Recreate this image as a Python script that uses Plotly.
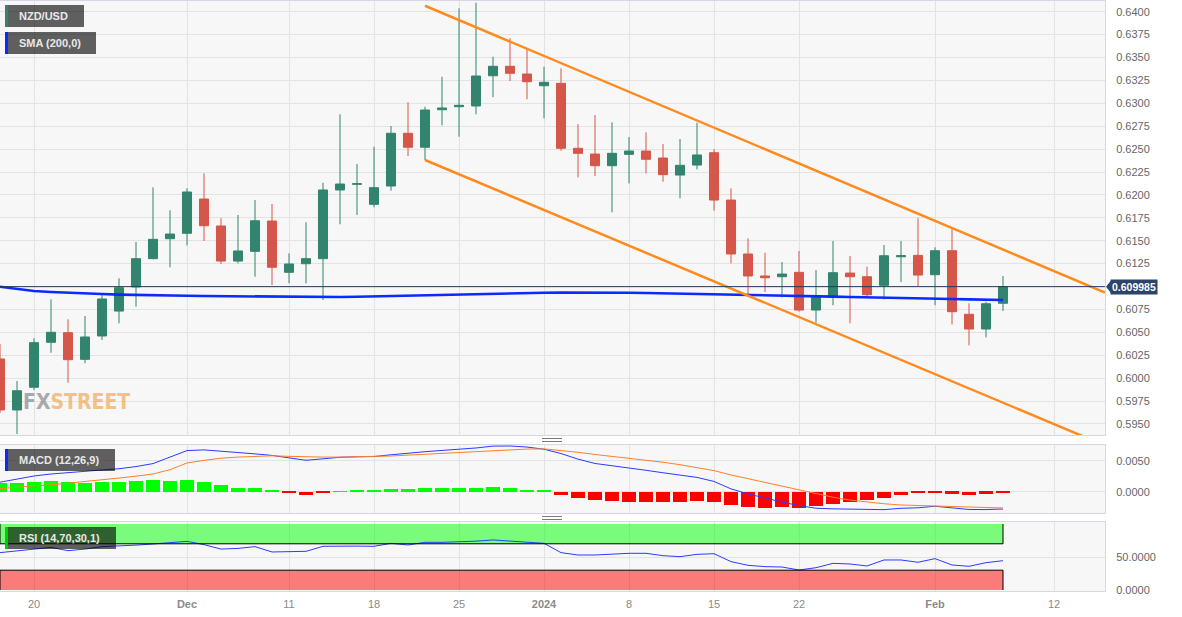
import pandas as pd
import plotly.graph_objects as go

# ---------------- data ----------------
first_day, last_day, axis_end = "2023-11-16", "2024-02-07", "2024-02-16"
calendar = [d.strftime("%Y-%m-%d") for d in pd.bdate_range(first_day, axis_end)]
dates = [d.strftime("%Y-%m-%d") for d in pd.bdate_range(first_day, last_day)]

open_ = [0.60209, 0.59652, 0.59900, 0.60391, 0.60496, 0.60205, 0.60460, 0.60732, 0.60995, 0.61304,
         0.61522, 0.61581, 0.61955, 0.61661, 0.61278, 0.61384, 0.61715, 0.61155, 0.61249, 0.61304,
         0.62054, 0.62116, 0.61897, 0.62097, 0.62673, 0.62520, 0.62930, 0.62963, 0.62971, 0.63301,
         0.63404, 0.63320, 0.63192, 0.63218, 0.62509, 0.62446, 0.62319, 0.62443, 0.62479, 0.62403,
         0.62217, 0.62326, 0.62461, 0.61944, 0.61355, 0.61115, 0.61107, 0.61155, 0.60743, 0.60882,
         0.61147, 0.61107, 0.61013, 0.61325, 0.61340, 0.61129, 0.61391, 0.60697, 0.60536, 0.60817]
high = [0.60372, 0.59968, 0.60435, 0.60860, 0.60642, 0.60678, 0.60907, 0.61090, 0.61486, 0.62083,
        0.61832, 0.62072, 0.62236, 0.61745, 0.61781, 0.61944, 0.61901, 0.61362, 0.61701, 0.62133,
        0.62880, 0.62337, 0.62526, 0.62752, 0.63011, 0.62963, 0.63290, 0.64037, 0.64098, 0.63509,
        0.63710, 0.63600, 0.63400, 0.63382, 0.62771, 0.62872, 0.62793, 0.62632, 0.62683, 0.62556,
        0.62610, 0.62788, 0.62498, 0.62072, 0.61526, 0.61369, 0.61267, 0.61388, 0.61180, 0.61497,
        0.61333, 0.61216, 0.61453, 0.61497, 0.61745, 0.61428, 0.61624, 0.60817, 0.60834, 0.61115]
low = [0.59619, 0.59390, 0.59870, 0.60277, 0.59950, 0.60162, 0.60416, 0.60598, 0.60780, 0.61297,
       0.61210, 0.61450, 0.61497, 0.61246, 0.61253, 0.61107, 0.61016, 0.61035, 0.61035, 0.60853,
       0.61679, 0.61781, 0.61865, 0.62046, 0.62425, 0.62381, 0.62760, 0.62635, 0.62880, 0.63066,
       0.63243, 0.63044, 0.62836, 0.62482, 0.62192, 0.62206, 0.61810, 0.62127, 0.62236, 0.62144,
       0.61963, 0.62279, 0.61828, 0.61253, 0.60889, 0.60940, 0.60882, 0.60725, 0.60605, 0.60795,
       0.60598, 0.60889, 0.60860, 0.61049, 0.61005, 0.60795, 0.60587, 0.60358, 0.60445, 0.60733]
close = [0.59652, 0.59862, 0.60387, 0.60500, 0.60201, 0.60449, 0.60864, 0.60987, 0.61304, 0.61515,
         0.61573, 0.62032, 0.61664, 0.61278, 0.61388, 0.61718, 0.61210, 0.61246, 0.61304, 0.62054,
         0.62119, 0.62122, 0.62079, 0.62673, 0.62520, 0.62927, 0.62949, 0.62978, 0.63298, 0.63404,
         0.63328, 0.63236, 0.63229, 0.62509, 0.62454, 0.62319, 0.62454, 0.62479, 0.62389, 0.62221,
         0.62323, 0.62436, 0.61944, 0.61355, 0.61115, 0.61096, 0.61136, 0.60743, 0.60882, 0.61151,
         0.61107, 0.60910, 0.61336, 0.61336, 0.61125, 0.61391, 0.60725, 0.60536, 0.60812, 0.609985]
sma200 = [0.60998, 0.60975, 0.60951, 0.60940, 0.60930, 0.60924, 0.60918, 0.60912, 0.60907, 0.60904,
          0.60902, 0.60899, 0.60896, 0.60894, 0.60893, 0.60891, 0.60890, 0.60887, 0.60885, 0.60883,
          0.60885, 0.60889, 0.60893, 0.60898, 0.60904, 0.60910, 0.60915, 0.60918, 0.60921, 0.60924,
          0.60927, 0.60930, 0.60932, 0.60933, 0.60934, 0.60934, 0.60934, 0.60932, 0.60929, 0.60926,
          0.60923, 0.60920, 0.60918, 0.60913, 0.60909, 0.60906, 0.60904, 0.60900, 0.60896, 0.60890,
          0.60885, 0.60880, 0.60876, 0.60872, 0.60869, 0.60866, 0.60863, 0.60860, 0.60857, 0.60853]
last_price = 0.609985

channel_dates = ["2023-12-21", "2024-02-15"]
channel_upper = [0.64065, 0.60934]
channel_lower = [0.62381, 0.59264]

macd = [0.00158, 0.00205, 0.00258, 0.00290, 0.00315, 0.00335, 0.00355, 0.00375, 0.00410, 0.00458,
        0.00560, 0.00668, 0.00679, 0.00660, 0.00632, 0.00615, 0.00590, 0.00550, 0.00511, 0.00535,
        0.00560, 0.00568, 0.00572, 0.00600, 0.00630, 0.00650, 0.00670, 0.00684, 0.00710, 0.00740,
        0.00742, 0.00725, 0.00690, 0.00620, 0.00530, 0.00460, 0.00425, 0.00395, 0.00350, 0.00310,
        0.00270, 0.00235, 0.00170, 0.00050, -0.00030, -0.00100, -0.00163, -0.00220, -0.00262, -0.00272,
        -0.00279, -0.00290, -0.00285, -0.00263, -0.00255, -0.00230, -0.00255, -0.00282, -0.00284, -0.00274]
signal = [0.00053, 0.00080, 0.00100, 0.00115, 0.00140, 0.00170, 0.00200, 0.00225, 0.00255, 0.00290,
          0.00360, 0.00468, 0.00510, 0.00545, 0.00563, 0.00575, 0.00584, 0.00575, 0.00565, 0.00563,
          0.00563, 0.00565, 0.00570, 0.00580, 0.00595, 0.00610, 0.00625, 0.00640, 0.00655, 0.00670,
          0.00685, 0.00692, 0.00695, 0.00672, 0.00640, 0.00605, 0.00575, 0.00550, 0.00520, 0.00480,
          0.00440, 0.00395, 0.00345, 0.00275, 0.00215, 0.00150, 0.00100, 0.00040, -0.00030, -0.00085,
          -0.00130, -0.00165, -0.00190, -0.00210, -0.00218, -0.00222, -0.00228, -0.00240, -0.00252, -0.00258]
hist = [0.00142, 0.00142, 0.00168, 0.00179, 0.00158, 0.00147, 0.00163, 0.00163, 0.00179, 0.00189,
        0.00184, 0.00200, 0.00168, 0.00111, 0.00068, 0.00058, 0.00026, -0.00020, -0.00042, -0.00010,
        0.00010, 0.00020, 0.00020, 0.00042, 0.00042, 0.00063, 0.00063, 0.00063, 0.00068, 0.00074,
        0.00058, 0.00037, 0.00021, -0.00053, -0.00105, -0.00137, -0.00147, -0.00158, -0.00163, -0.00163,
        -0.00163, -0.00147, -0.00163, -0.00205, -0.00237, -0.00253, -0.00242, -0.00253, -0.00232, -0.00189,
        -0.00158, -0.00137, -0.00095, -0.00047, -0.00016, -0.00010, -0.00032, -0.00042, -0.00032, -0.00016]
rsi = [56.6, 59.0, 61.6, 64.6, 59.6, 62.0, 65.7, 66.5, 68.0, 69.7,
       71.5, 73.7, 68.7, 62.0, 63.0, 65.7, 57.6, 58.0, 58.6, 66.2,
       66.7, 66.5, 66.2, 70.7, 68.2, 72.2, 72.2, 72.7, 74.0, 75.8,
       74.2, 72.2, 70.7, 56.6, 53.0, 53.0, 54.5, 55.6, 55.6, 52.0,
       50.5, 54.0, 55.0, 43.0, 37.4, 35.4, 34.8, 30.3, 33.8, 40.4,
       39.4, 36.4, 45.5, 45.5, 42.0, 47.5, 37.9, 35.9, 41.4, 44.4]
rsi_upper, rsi_lower = 70, 30

tick_dates = ["2023-11-20", "2023-12-01", "2023-12-11", "2023-12-18", "2023-12-25", "2024-01-01",
              "2024-01-08", "2024-01-15", "2024-01-22", "2024-02-01", "2024-02-12"]
tick_labels = ["20", "<b>Dec</b>", "11", "18", "25", "<b>2024</b>", "8", "15", "22", "<b>Feb</b>", "12"]

price_ticks = [0.5950 + 0.0025 * k for k in range(19)]

# ---------------- helpers ----------------
pos = {d: i for i, d in enumerate(calendar)}
xi = [pos[d] for d in dates]
tickpos = [pos[d] for d in tick_dates]
ch_x = [pos[d] for d in channel_dates]
# the tick hidden behind the last-price tag is left unlabeled
price_ticktext = ["" if abs(v - last_price) < 0.0005 else "%.4f" % v for v in price_ticks]

PLOT_W, TOP, BOT = 1105.0, 1.0, 591.0
def px_x(p):
    return p / PLOT_W
def px_y(p):
    return (BOT - p) / (BOT - TOP)

FONT = "Liberation Sans, Arial, sans-serif"
GRID = "#e3e3e3"
BORDER = "#d3d7e6"
GREEN_C = "#32846f"
RED_C = "#d4574a"

fig = go.Figure()

fig.add_trace(go.Candlestick(
    x=xi, open=open_, high=high, low=low, close=close,
    increasing=dict(line=dict(color=GREEN_C, width=1), fillcolor=GREEN_C),
    decreasing=dict(line=dict(color=RED_C, width=1), fillcolor=RED_C),
    xaxis="x", yaxis="y", showlegend=False, hoverinfo="skip"))

fig.add_trace(go.Scatter(x=xi, y=sma200, mode="lines", line=dict(color="#0a2aff", width=2.6),
                         xaxis="x", yaxis="y", showlegend=False, hoverinfo="skip"))
for ch in (channel_upper, channel_lower):
    fig.add_trace(go.Scatter(x=ch_x, y=ch, mode="lines", line=dict(color="#ff8a1e", width=2.5),
                             xaxis="x", yaxis="y", showlegend=False, hoverinfo="skip", cliponaxis=True))

fig.add_trace(go.Bar(x=xi, y=hist, width=0.78,
                     marker=dict(color=["#00ff00" if v >= 0 else "#ff0000" for v in hist], line=dict(width=0)),
                     xaxis="x2", yaxis="y2", showlegend=False, hoverinfo="skip"))
fig.add_trace(go.Scatter(x=xi, y=macd, mode="lines", line=dict(color="#2a3cff", width=1),
                         xaxis="x2", yaxis="y2", showlegend=False, hoverinfo="skip"))
fig.add_trace(go.Scatter(x=xi, y=signal, mode="lines", line=dict(color="#ff7f2a", width=1),
                         xaxis="x2", yaxis="y2", showlegend=False, hoverinfo="skip"))

fig.add_trace(go.Scatter(x=xi, y=rsi, mode="lines", line=dict(color="#2a3cff", width=1),
                         xaxis="x3", yaxis="y3", showlegend=False, hoverinfo="skip"))

xrange = [0, 65]
common_x = dict(range=xrange, tickvals=tickpos, ticktext=tick_labels, showgrid=True, gridcolor=GRID,
                zeroline=False, showline=True, linecolor=BORDER, mirror=True, ticks="",
                fixedrange=True, automargin=False)
common_y = dict(side="right", showgrid=True, gridcolor=GRID, zeroline=False, showline=True,
                linecolor=BORDER, mirror=True, ticks="", tickformat=".4f", automargin=False,
                tickfont=dict(family=FONT, size=11, color="#666666"), ticklabelstandoff=8)

fig.update_layout(
    width=1182, height=617,
    margin=dict(l=0, r=1182 - PLOT_W, t=TOP, b=617 - BOT, pad=0, autoexpand=False),
    paper_bgcolor="white", plot_bgcolor="#f7f7f7",
    showlegend=False, boxgap=0.24, bargap=0,
    xaxis=dict(common_x, anchor="y", showticklabels=False, rangeslider=dict(visible=False)),
    xaxis2=dict(common_x, anchor="y2", showticklabels=False, matches="x"),
    xaxis3=dict(common_x, anchor="y3", showticklabels=True, matches="x",
                tickfont=dict(family=FONT, size=11, color="#8a8a8a"), ticklabelstandoff=3),
    yaxis=dict(common_y, domain=[px_y(435), 1.0], range=[0.59379, 0.64117], tickvals=price_ticks,
               ticktext=price_ticktext),
    yaxis2=dict(common_y, domain=[px_y(513), px_y(445)], range=[-0.00339, 0.00758], tickvals=[0, 0.005]),
    yaxis3=dict(common_y, domain=[0.0, px_y(522)], range=[-1.5, 103], tickvals=[0, 50]),
)

shapes = []
# last price line
shapes.append(dict(type="line", xref="x", yref="y", x0=xrange[0], x1=xrange[1], y0=last_price, y1=last_price,
                   line=dict(color="#22385c", width=1)))
# RSI zones
n_last = xi[-1]
shapes.append(dict(type="rect", xref="x3", yref="y3", x0=xi[0], x1=n_last, y0=rsi_upper, y1=100,
                   fillcolor="rgba(0,255,0,0.5)", line=dict(width=0), layer="between"))
shapes.append(dict(type="rect", xref="x3", yref="y3", x0=xi[0], x1=n_last, y0=0, y1=rsi_lower,
                   fillcolor="rgba(255,0,0,0.5)", line=dict(width=0), layer="between"))
for y0, y1 in ((rsi_upper, 100), (0, rsi_lower)):
    for xv in (xi[0], n_last):
        shapes.append(dict(type="line", xref="x3", yref="y3", x0=xv, x1=xv, y0=y0, y1=y1,
                           line=dict(color="black", width=1)))
for yv in (rsi_upper, rsi_lower):
    shapes.append(dict(type="line", xref="x3", yref="y3", x0=xi[0], x1=n_last, y0=yv, y1=yv,
                       line=dict(color="black", width=1)))

# label boxes
boxes = [((5, 84, 5, 27), GREEN_C, "NZD/USD"),
         ((5, 96, 32, 54), "#0a2aff", "SMA (200,0)"),
         ((5, 115, 449, 471), "#0a2aff", "MACD (12,26,9)"),
         ((5, 116, 527, 549), "#00d000", "RSI (14,70,30,1)")]
annotations = []
for (bx0, bx1, by0, by1), col, txt in boxes:
    shapes.append(dict(type="rect", xref="paper", yref="paper", x0=px_x(bx0), x1=px_x(bx1),
                       y0=px_y(by1), y1=px_y(by0), fillcolor="rgba(0,0,0,0.615)", line=dict(width=0)))
    shapes.append(dict(type="rect", xref="paper", yref="paper", x0=px_x(bx0), x1=px_x(bx0 + 3),
                       y0=px_y(by1), y1=px_y(by0), fillcolor=col, line=dict(width=0)))
    annotations.append(dict(xref="paper", yref="paper", x=px_x(bx0 + 12), y=px_y((by0 + by1) / 2),
                            xanchor="left", yanchor="middle", showarrow=False, text="<b>%s</b>" % txt,
                            font=dict(family=FONT, size=11, color="#e8e8e8")))

# pane handles
for hy in (438.5, 441.5, 516.5, 519.5):
    shapes.append(dict(type="line", xref="paper", yref="paper", x0=px_x(542), x1=px_x(562),
                       y0=px_y(hy), y1=px_y(hy), line=dict(color="#7a7a7a", width=1)))

# last price tag
tag_h = 0.00068
shapes.append(dict(type="path", xref="paper", yref="y",
                   path="M %f,%f L %f,%f L %f,%f Z" % (px_x(1106), last_price, px_x(1111), last_price + tag_h,
                                                        px_x(1111), last_price - tag_h),
                   fillcolor="#2c4468", line=dict(width=0)))
annotations.append(dict(xref="paper", yref="y", x=px_x(1110), y=last_price, xanchor="left", yanchor="middle",
                        showarrow=False, text="<b>%.6f</b>" % last_price, bgcolor="#2c4468", borderpad=1,
                        font=dict(family=FONT, size=10.5, color="white")))

# watermark
annotations.append(dict(xref="paper", yref="paper", x=px_x(21), y=px_y(402), xanchor="left", yanchor="middle",
                        showarrow=False, opacity=0.75,
                        text="<b><span style='color:#8e8e98'>FX</span><span style='color:#f0b060'>STREET</span></b>",
                        font=dict(family="Liberation Sans Narrow, DejaVu Sans Condensed, sans-serif", size=21)))

fig.update_layout(shapes=shapes, annotations=annotations)

fig.write_html("out.html", config={"displayModeBar": False},
               post_script="document.body.style.margin='0';document.body.style.overflow='hidden';")
